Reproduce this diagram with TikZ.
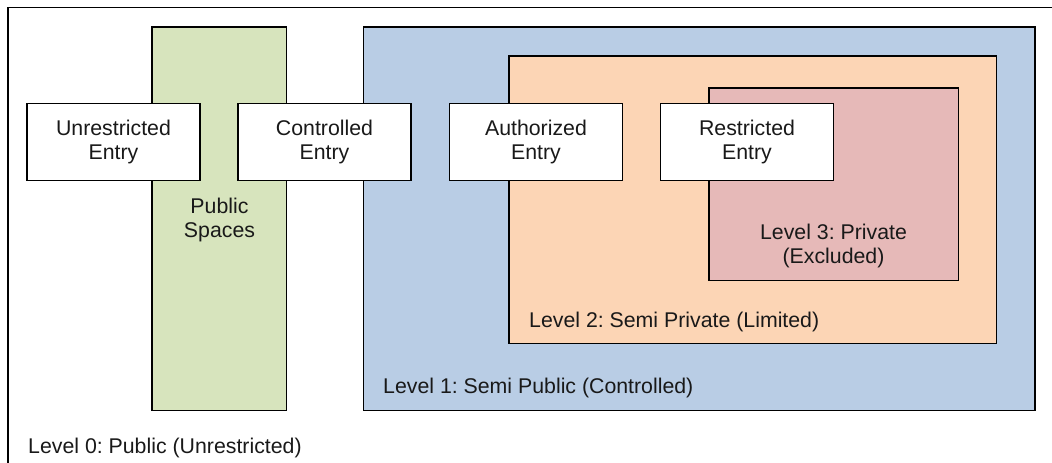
\documentclass[tikz,border=0pt]{standalone}
\usepackage{fontspec}
\setmainfont{Liberation Sans}
\frenchspacing
\begin{document}
\begin{tikzpicture}[x=1pt,y=-1pt,
  txt/.style={font=\fontsize{21.3}{24}\selectfont, text=black!90, inner sep=0pt},
  zone/.style={draw=black, line width=1.6pt},
  entrybox/.style={draw=black, line width=1.6pt, fill=white, align=center,
    minimum width=173pt, minimum height=77pt, inner sep=0pt,
    font=\fontsize{21.3}{24}\selectfont, text=black!90}]
\definecolor{pubgreen}{HTML}{D7E4BD}
\definecolor{lvlblue}{HTML}{B9CDE5}
\definecolor{lvlorange}{HTML}{FCD5B5}
\definecolor{lvlred}{HTML}{E6B9B8}
\useasboundingbox (0,0) rectangle (1052,463);
\clip (0,0) rectangle (1052,463);

% level 0 frame
\draw[line width=1.6pt] (8,7.5) rectangle (1070,490);

% zones
\draw[zone, fill=pubgreen] (152,27) rectangle (286.5,410.5);
\draw[zone, fill=lvlblue] (363.5,27) rectangle (1035,410.5);
\draw[zone, fill=lvlorange] (509,56) rectangle (996.5,343.5);
\draw[zone, fill=lvlred] (709,88) rectangle (958.5,280.5);

% zone labels
\node[txt, align=center] (pub) at (219.5,220) {Public\\Spaces};
\node[txt, align=center] (l3) at (833.5,246) {Level 3: Private\\(Excluded)};
\node[txt, anchor=west] (l2) at (529,322) {Level 2: Semi Private (Limited)};
\node[txt, anchor=west] (l1) at (383,388) {Level 1: Semi Public (Controlled)};
\node[txt, anchor=west] (l0) at (28,448) {Level 0: Public (Unrestricted)};

% entry points
\node[entrybox] (e0) at (113.5,142) {Unrestricted\\Entry};
\node[entrybox] (e1) at (324.5,142) {Controlled\\Entry};
\node[entrybox] (e2) at (536,142) {Authorized\\Entry};
\node[entrybox] (e3) at (747,142) {Restricted\\Entry};
\end{tikzpicture}
\end{document}
